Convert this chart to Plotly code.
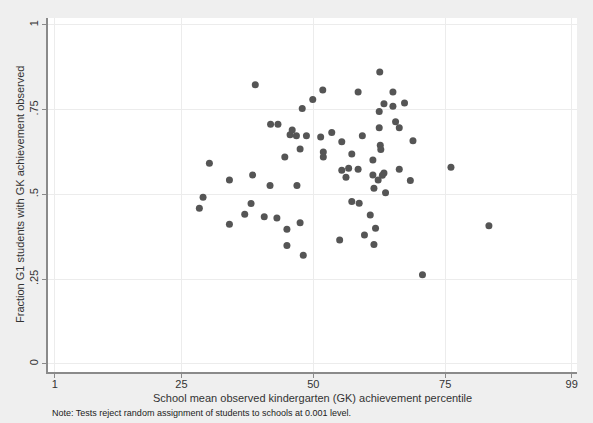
import plotly.graph_objects as go

# School mean observed GK percentile (x) and fraction of G1 students with GK observed (y)
school_pct = [28.4, 29.1, 30.3, 34.1, 34.1, 37.0, 38.2, 38.5, 39.0, 40.7,
              41.8, 41.9, 43.1, 43.3, 44.6, 45.0, 45.0, 45.6, 46.0, 46.8,
              46.9, 47.5, 47.5, 47.9, 48.1, 48.7, 49.9, 51.4, 51.8, 51.9,
              51.9, 53.5, 55.0, 55.4, 55.4, 56.2, 56.7, 57.3, 57.3, 58.5,
              58.5, 58.7, 59.3, 59.7, 60.8, 61.3, 61.3, 61.5, 61.5, 61.8,
              62.3, 62.5, 62.5, 62.6, 62.7, 62.8, 63.4, 63.4, 63.1, 63.7,
              65.1, 65.1, 65.6, 66.3, 66.3, 67.3, 68.4, 68.9, 70.7, 76.1,
              83.3]
frac_obs = [0.459, 0.491, 0.592, 0.542, 0.412, 0.441, 0.473, 0.557, 0.823, 0.434,
            0.526, 0.707, 0.430, 0.707, 0.610, 0.397, 0.349, 0.676, 0.690, 0.673,
            0.526, 0.634, 0.416, 0.753, 0.320, 0.673, 0.780, 0.669, 0.808, 0.625,
            0.610, 0.682, 0.365, 0.655, 0.571, 0.550, 0.577, 0.619, 0.479, 0.802,
            0.574, 0.474, 0.673, 0.380, 0.439, 0.601, 0.557, 0.518, 0.352, 0.400,
            0.542, 0.744, 0.696, 0.861, 0.645, 0.632, 0.767, 0.563, 0.556, 0.505,
            0.802, 0.760, 0.714, 0.696, 0.574, 0.769, 0.541, 0.658, 0.263, 0.580,
            0.407]

x_ticks = [1, 25, 50, 75, 99]
y_ticks = [0, 0.25, 0.5, 0.75, 1]
y_tick_text = ["0", ".25", ".5", ".75", "1"]

FONT = "Liberation Sans, Arial, sans-serif"

fig = go.Figure()
fig.add_trace(go.Scatter(
    x=school_pct, y=frac_obs, mode="markers",
    marker=dict(size=7, color="#555555", line=dict(width=0)),
    showlegend=False, hoverinfo="x+y",
))

axis_common = dict(
    showline=True, linecolor="#8a8a8a", linewidth=1.5,
    ticks="outside", ticklen=4, tickcolor="#8a8a8a", tickwidth=1,
    showgrid=True, gridcolor="#ececec", gridwidth=1,
    zeroline=False, mirror=False,
    tickfont=dict(family=FONT, size=11, color="#333333"),
)

fig.update_layout(
    width=593, height=423,
    margin=dict(l=48, r=16, t=18, b=51),
    paper_bgcolor="#efefef", plot_bgcolor="#ffffff",
    font=dict(family=FONT, color="#333333"),
    xaxis=dict(range=[-0.3, 100], tickvals=x_ticks,
               ticktext=[str(v) for v in x_ticks], ticklabelstandoff=-3,
               **axis_common),
    yaxis=dict(range=[-0.024, 1.02], tickvals=y_ticks, ticktext=y_tick_text,
               tickangle=-90, **axis_common),
    annotations=[
        dict(text="School mean observed kindergarten (GK) achievement percentile",
             xref="paper", yref="paper", x=0.5, y=(372 - 398) / 354,
             xanchor="center", yanchor="middle", showarrow=False,
             font=dict(family=FONT, size=11, color="#333333")),
        dict(text="Note: Tests reject random assignment of students to schools at 0.001 level.",
             xref="paper", yref="paper", x=(50 - 48) / 529, y=(372 - 413) / 354,
             xanchor="left", yanchor="middle", showarrow=False,
             font=dict(family=FONT, size=9, color="#222222")),
        dict(text="Fraction G1 students with GK achievement observed",
             xref="paper", yref="paper", x=(20 - 48) / 529, y=(372 - 195) / 354,
             xanchor="center", yanchor="middle", textangle=-90, showarrow=False,
             font=dict(family=FONT, size=11, color="#333333")),
    ],
)

fig.write_html("out.html")
